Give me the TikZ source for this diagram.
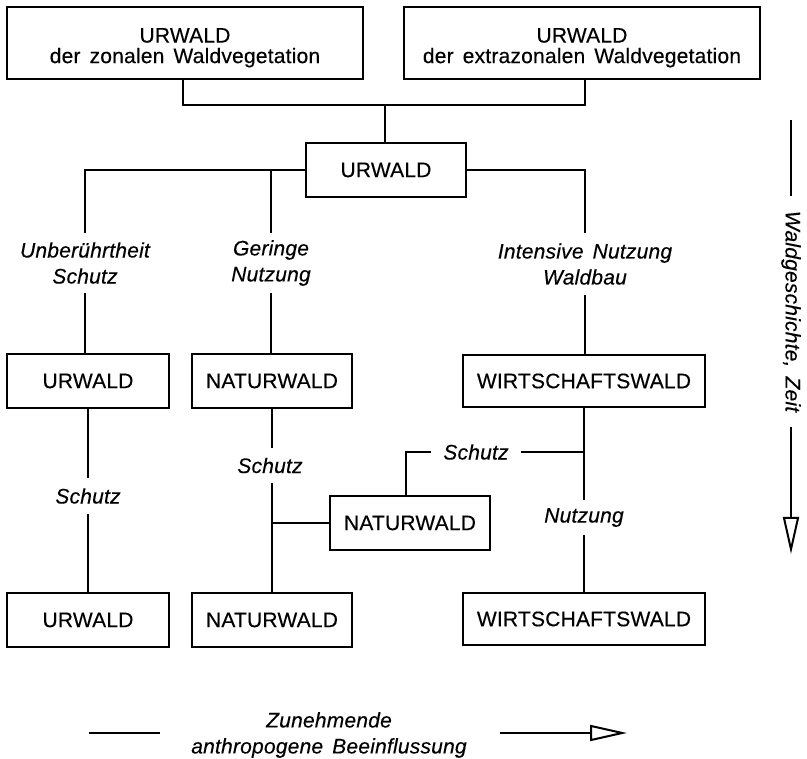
\documentclass[tikz,border=0pt]{standalone}
\usepackage{fontspec}
\setmainfont{Liberation Sans}[LetterSpace=1,WordSpace=1.5,FakeBold=0.3]
\usetikzlibrary{arrows.meta,calc}
\begin{document}
\begin{tikzpicture}[x=1pt,y=-1pt,
  box/.style={draw,line width=2pt,inner sep=0pt,align=center,font=\fontsize{21}{20.5}\selectfont},
  lab/.style={inner sep=0pt,align=center,font=\fontsize{21}{26}\selectfont\itshape},
  conn/.style={line width=2pt},
  tip/.style={-{Triangle[open,length=37pt,width=16pt,line width=2pt]}}]
\useasboundingbox (0,0) rectangle (807,759);

% boxes
\node[box,minimum width=356pt,minimum height=72pt] (top1) at (185,43)
  {\rule{0pt}{24pt}URWALD\\der zonalen Waldvegetation};
\node[box,minimum width=356pt,minimum height=72pt] (top2) at (582,43)
  {\rule{0pt}{24pt}URWALD\\der extrazonalen Waldvegetation};
\node[box,minimum width=160pt,minimum height=54pt] (ur0) at (386,170) {URWALD};
\node[box,minimum width=162pt,minimum height=54pt] (ur1) at (88,381) {URWALD};
\node[box,minimum width=160pt,minimum height=54pt] (nw1) at (272,381) {NATURWALD};
\node[box,minimum width=242pt,minimum height=52pt] (ws1) at (584,381) {WIRTSCHAFTSWALD};
\node[box,minimum width=160pt,minimum height=54pt] (nw2) at (410,523) {NATURWALD};
\node[box,minimum width=162pt,minimum height=54pt] (ur2) at (88,620) {URWALD};
\node[box,minimum width=160pt,minimum height=54pt] (nw3) at (272,620) {NATURWALD};
\node[box,minimum width=242pt,minimum height=52pt] (ws2) at (584,619) {WIRTSCHAFTSWALD};

% labels
\node[lab,minimum height=60pt] (l1) at (85,263) {Unberührtheit\\Schutz};
\node[lab,minimum height=60pt] (l2) at (271,263) {Geringe\\Nutzung};
\node[lab,minimum height=62pt] (l3) at (585,264) {Intensive Nutzung\\Waldbau};
\node[lab,minimum height=36pt] (s1) at (88,496) {Schutz};
\node[lab,minimum height=35pt] (s2) at (270,465.5) {Schutz};
\node[lab,inner xsep=12pt] (s3) at (476,452) {Schutz};
\node[lab,minimum height=35pt] (n1) at (584,517.5) {Nutzung};

% top connectors
\coordinate (jt) at (385,105);
\draw[conn] ([xshift=-2pt]top1.south) |- (jt) -| ([xshift=3pt]top2.south);
\draw[conn] (jt) -- (jt |- ur0.north);

% branches
\draw[conn] (ur0.west) -| (l1.north);
\draw[conn] (ur0.west -| l2.north) -- (l2.north);
\draw[conn] (ur0.east) -| (l3.north);
\draw[conn] (l1.south) -- (l1.south |- ur1.north);
\draw[conn] (l2.south) -- (l2.south |- nw1.north);
\draw[conn] (l3.south) -- (l3.south |- ws1.north);

% left column
\draw[conn] (ur1.south) -- (ur1.south |- s1.north);
\draw[conn] (s1.south -| ur1.south) -- (ur2.north);

% middle column
\draw[conn] (nw1.south) -- (nw1.south |- s2.north);
\draw[conn] (s2.south -| nw1.south) -- (nw3.north);
\draw[conn] (nw2.west) -- (nw2.west -| nw3.north);
\draw[conn] ([xshift=-4pt]nw2.north) |- (s3.west);
\draw[conn] (s3.east) -- (s3.east -| ws1.south);

% right column
\draw[conn] (ws1.south) -- (ws1.south |- n1.north);
\draw[conn] (n1.south -| ws1.south) -- (ws2.north);

% time axis
\node[lab,rotate=-90,inner xsep=15pt] (zt) at (791,311.5) {Waldgeschichte, Zeit};
\coordinate (zt0) at (791,120);
\coordinate (zt1) at (791,554);
\draw[conn] (zt0) -- (zt.west);
\draw[conn,tip] (zt.east) -- (zt1);

% influence axis
\node[lab] (bt) at (329,735) {Zunehmende\\anthropogene Beeinflussung};
\coordinate (b1) at (89,733);
\coordinate (b2) at (160,733);
\coordinate (b3) at (500,733);
\coordinate (b4) at (627,733);
\draw[conn] (b1) -- (b2);
\draw[conn,tip] (b3) -- (b4);
\end{tikzpicture}
\end{document}
